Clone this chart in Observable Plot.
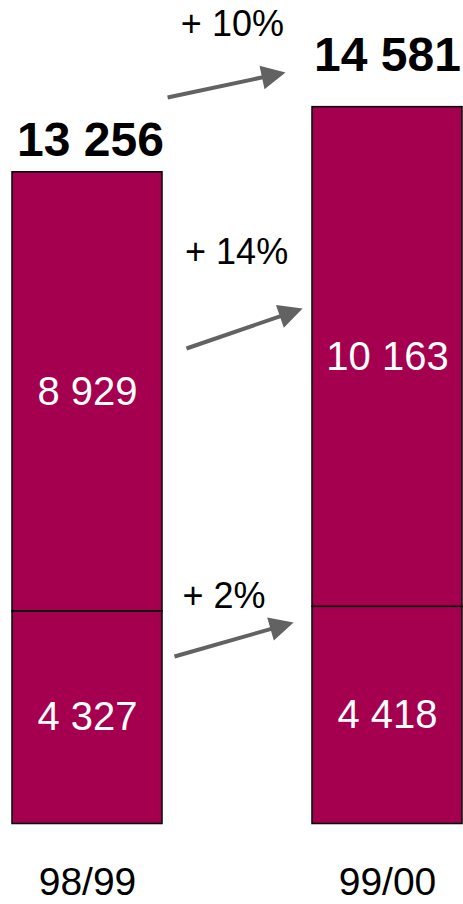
<!DOCTYPE html>
<html><head><meta charset="utf-8">
<script src="https://cdn.jsdelivr.net/npm/d3@7"></script>
<script src="https://cdn.jsdelivr.net/npm/@observablehq/plot@0.6"></script>
<style>body{margin:0;background:#fff} #chart svg{display:block}</style>
</head><body><div id="chart"></div>
<script>
// ---- data ----
const years = ["98/99", "99/00"];
const lowerValues = [4327, 4418];
const upperValues = [8929, 10163];
const changeLabels = ["+ 10%", "+ 14%", "+ 2%"];
// annotation anchors in chart units (x: 0 = first bar, 1 = second bar; y: value units)
const arrowStartX = [0.267, 0.33, 0.29];
const arrowStartY = [14777, 9672, 3407];
const arrowEndX = [0.66, 0.717, 0.687];
const arrowEndY = [15286, 10485, 4099];
const changeLabelX = [0.483, 0.497, 0.455];
const changeLabelY = [16272, 11635, 4638];

// ---- layout ----
const width = 463, height = 904;
const marginLeft = 12, marginRight = 1, marginTop = 0, marginBottom = 80.5;
const xDomain = [-0.25, 1.25];
const yDomain = [0, 16750];
const barColor = "#A50050";
const arrowColor = "#626262";
const font = "Liberation Sans, Arial, Helvetica, sans-serif";

const fmt = d3.formatLocale({decimal: ",", thousands: " ", grouping: [3], currency: ["", ""]}).format(",d");

const totals = years.map((_, i) => lowerValues[i] + upperValues[i]);
const segments = [];
years.forEach((y, i) => {
  segments.push({i, year: y, value: lowerValues[i], y1: 0, y2: lowerValues[i]});
  segments.push({i, year: y, value: upperValues[i], y1: lowerValues[i], y2: totals[i]});
});
const totalRows = years.map((y, i) => ({i, year: y, total: totals[i]}));
const arrows = changeLabels.map((label, i) => ({
  label, x1: arrowStartX[i], y1: arrowStartY[i], x2: arrowEndX[i], y2: arrowEndY[i],
  lx: changeLabelX[i], ly: changeLabelY[i]
}));

const xs = d3.scaleLinear(xDomain, [marginLeft, width - marginRight]);
const ys = d3.scaleLinear(yDomain, [height - marginBottom, marginTop]);
const headAngle = d => Math.atan2(ys(d.y2) - ys(d.y1), xs(d.x2) - xs(d.x1)) * 180 / Math.PI + 90;

const headSymbol = {
  draw(context) {
    context.moveTo(0, 0);
    context.lineTo(12, 24);
    context.lineTo(-12, 24);
    context.closePath();
  }
};

const halfBar = 0.25;

const chart = Plot.plot({
  width, height, marginLeft, marginRight, marginTop, marginBottom,
  style: {fontFamily: font, background: "#fff", color: "#000"},
  x: {domain: xDomain, axis: null},
  y: {domain: yDomain, axis: null},
  marks: [
    Plot.rectY(segments, {
      x1: d => d.i - halfBar, x2: d => d.i + halfBar, y1: "y1", y2: "y2",
      fill: barColor, stroke: "#000", strokeWidth: 1.5
    }),
    Plot.text(segments, {
      x: "i", y: d => (d.y1 + d.y2) / 2, text: d => fmt(d.value),
      fill: "#fff", fontSize: 40
    }),
    Plot.text(totalRows.filter(d => d.i === 0), {
      x: "i", y: "total", text: d => fmt(d.total), dx: 3, dy: -32,
      fontSize: 48, fontWeight: "bold", fill: "#000"
    }),
    Plot.text(totalRows.filter(d => d.i === 1), {
      x: "i", y: "total", text: d => fmt(d.total), dy: -52,
      fontSize: 48, fontWeight: "bold", fill: "#000"
    }),
    Plot.arrow(arrows, {
      x1: "x1", y1: "y1", x2: "x2", y2: "y2",
      stroke: arrowColor, strokeWidth: 4, headLength: 0, insetEnd: 14,
      strokeLinecap: "butt"
    }),
    Plot.dot(arrows, {
      x: "x2", y: "y2", rotate: headAngle, symbol: headSymbol, r: 10,
      fill: arrowColor, stroke: "none"
    }),
    Plot.text(arrows, {x: "lx", y: "ly", text: "label", fontSize: 36, fill: "#000"}),
    Plot.axisX({
      ticks: [0, 1], tickFormat: i => years[i], tickSize: 0, tickPadding: 43,
      fontSize: 39, label: null, fill: "#000"
    })
  ]
});
document.getElementById("chart").appendChild(chart);
</script>
</body></html>
